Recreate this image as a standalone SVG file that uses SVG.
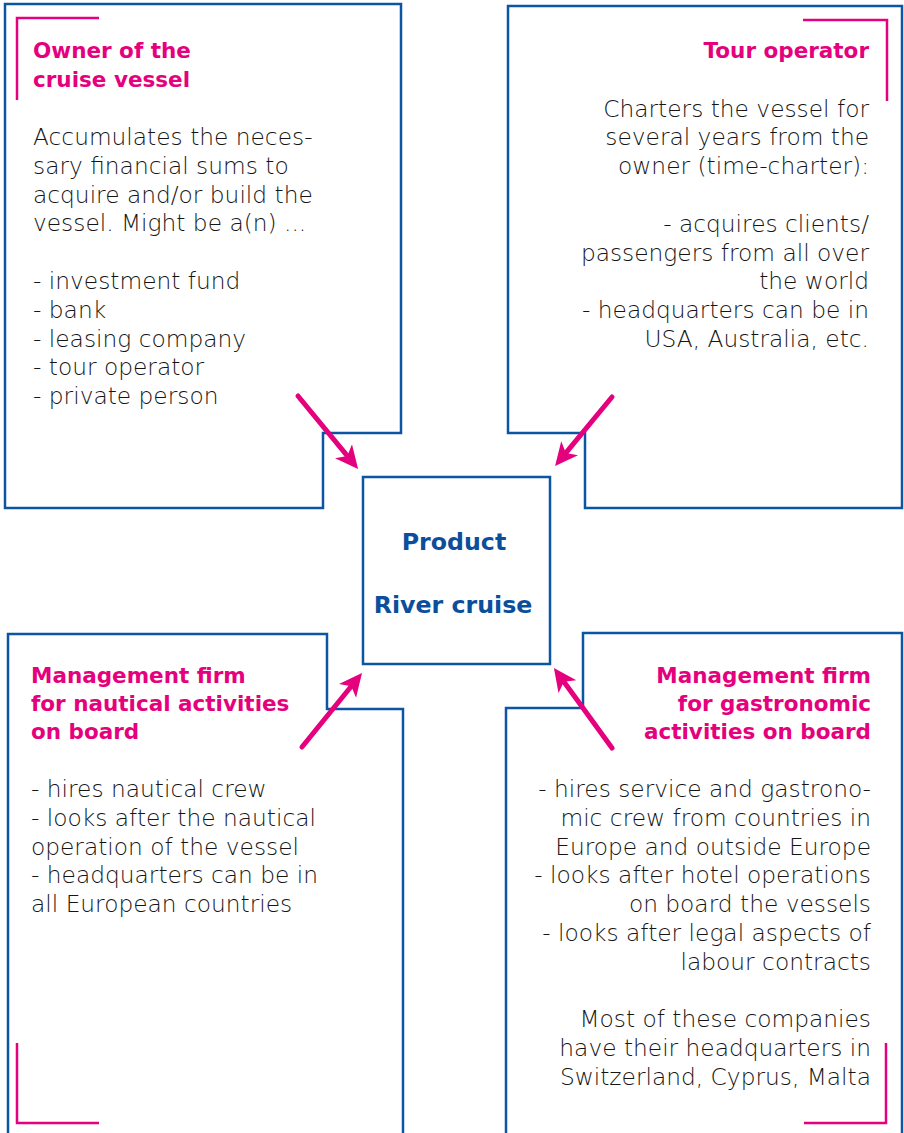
<svg xmlns="http://www.w3.org/2000/svg" width="904" height="1133" viewBox="0 0 904 1133">
<style>
.box{fill:none;stroke:#0b55a3;stroke-width:2.5;stroke-linejoin:miter}
.brk{fill:none;stroke:#e5007d;stroke-width:2.5}
.h{font-family:"DejaVu Sans","Liberation Sans",sans-serif;font-weight:bold;font-size:21.5px;fill:#e5007d}
.b{font-family:"DejaVu Sans","Liberation Sans",sans-serif;font-weight:300;font-size:23.3px;fill:#151515}
.c{font-family:"DejaVu Sans","Liberation Sans",sans-serif;font-weight:bold;font-size:23.7px;fill:#0b4f9c;text-anchor:middle}
.r{text-anchor:end}
.arr{stroke:#e5007d;stroke-width:5;stroke-linecap:round;fill:none;marker-end:url(#ah)}
</style>
<defs>
<marker id="ah" markerUnits="userSpaceOnUse" markerWidth="24" markerHeight="24" viewBox="0 0 24 24" refX="6" refY="12" orient="auto">
<path d="M0,1 L23,12 L0,23 L6,12 Z" fill="#e5007d"/>
</marker>
</defs>
<rect width="904" height="1133" fill="#ffffff"/>

<g id="owner">
<path class="box" d="M5,4 H401 V433 H323 V508 H5 Z"/>
<path class="brk" d="M99,18 H17 V100"/>
<text class="h" x="33" y="58">Owner of the</text>
<text class="h" x="33" y="87">cruise vessel</text>
<text class="b" x="33" y="145">Accumulates the neces-</text>
<text class="b" x="33" y="173.8">sary financial sums to</text>
<text class="b" x="33" y="202.6">acquire and/or build the</text>
<text class="b" x="33" y="231.4">vessel. Might be a(n) ...</text>
<text class="b" x="33" y="289">- investment fund</text>
<text class="b" x="33" y="317.8">- bank</text>
<text class="b" x="33" y="346.6">- leasing company</text>
<text class="b" x="33" y="375.4">- tour operator</text>
<text class="b" x="33" y="404.2">- private person</text>
</g>

<g id="tour-operator">
<path class="box" d="M508,6 H902 V508 H585 V433 H508 Z"/>
<path class="brk" d="M803,20 H887 V101"/>
<text class="h r" x="869" y="58">Tour operator</text>
<text class="b r" x="869" y="116.6">Charters the vessel for</text>
<text class="b r" x="869" y="145.4">several years from the</text>
<text class="b r" x="869" y="174.2">owner (time-charter):</text>
<text class="b r" x="869" y="231.8">- acquires clients/</text>
<text class="b r" x="869" y="260.6">passengers from all over</text>
<text class="b r" x="869" y="289.4">the world</text>
<text class="b r" x="869" y="318.2">- headquarters can be in</text>
<text class="b r" x="869" y="347">USA, Australia, etc.</text>
</g>

<g id="product">
<rect class="box" x="363" y="477" width="187" height="187"/>
<text class="c" x="454" y="550">Product</text>
<text class="c" x="453" y="613">River cruise</text>
</g>

<g id="nautical">
<path class="box" d="M8,1135 V634 H327 V709 H403 V1135"/>
<path class="brk" d="M17,1043 V1123 H99"/>
<text class="h" x="31" y="683">Management firm</text>
<text class="h" x="31" y="711">for nautical activities</text>
<text class="h" x="31" y="739">on board</text>
<text class="b" x="31" y="797">- hires nautical crew</text>
<text class="b" x="31" y="825.8">- looks after the nautical</text>
<text class="b" x="31" y="854.6">operation of the vessel</text>
<text class="b" x="31" y="883.4">- headquarters can be in</text>
<text class="b" x="31" y="912.2">all European countries</text>
</g>

<g id="gastronomic">
<path class="box" d="M506,1135 V708 H583 V633 H902 V1135"/>
<path class="brk" d="M886,1043 V1123 H804"/>
<text class="h r" x="871" y="683">Management firm</text>
<text class="h r" x="871" y="711">for gastronomic</text>
<text class="h r" x="871" y="739">activities on board</text>
<text class="b r" x="871" y="797">- hires service and gastrono-</text>
<text class="b r" x="871" y="825.8">mic crew from countries in</text>
<text class="b r" x="871" y="854.6">Europe and outside Europe</text>
<text class="b r" x="871" y="883.4">- looks after hotel operations</text>
<text class="b r" x="871" y="912.2">on board the vessels</text>
<text class="b r" x="871" y="941">- looks after legal aspects of</text>
<text class="b r" x="871" y="969.8">labour contracts</text>
<text class="b r" x="871" y="1027.4">Most of these companies</text>
<text class="b r" x="871" y="1056.2">have their headquarters in</text>
<text class="b r" x="871" y="1085">Switzerland, Cyprus, Malta</text>
</g>

<g id="connectors">
<path class="arr" d="M298,396 L347.3,455.9"/>
<path class="arr" d="M612,397 L565.9,452.9"/>
<path class="arr" d="M302,747 L351.3,686.2"/>
<path class="arr" d="M612,748 L563.9,681.8"/>
</g>
</svg>
